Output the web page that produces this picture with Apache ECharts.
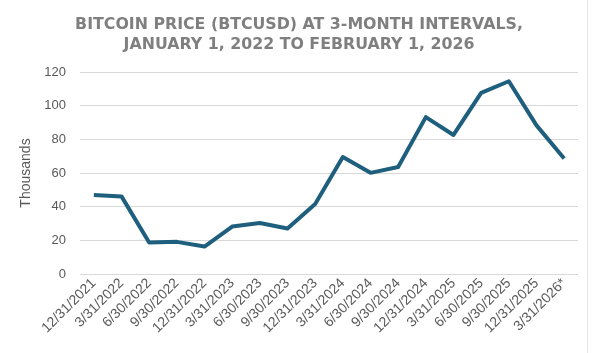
<!DOCTYPE html>
<html>
<head>
<meta charset="utf-8">
<script src="https://cdn.jsdelivr.net/npm/echarts@6/dist/echarts.min.js"></script>
<style>
  html, body { margin: 0; padding: 0; background: #fff; }
  #main { width: 598px; height: 353px; }
</style>
</head>
<body>
<div id="main"></div>
<script>
  // quarter-end dates
  var dates = ['12/31/2021', '3/31/2022', '6/30/2022', '9/30/2022', '12/31/2022',
    '3/31/2023', '6/30/2023', '9/30/2023', '12/31/2023', '3/31/2024', '6/30/2024',
    '9/30/2024', '12/31/2024', '3/31/2025', '6/30/2025', '9/30/2025', '12/31/2025', '3/31/2026*'];
  // price in thousands USD
  var price = [47.0, 46.1, 18.7, 19.1, 16.3, 28.2, 30.3, 27.0, 41.6, 69.5, 60.1,
    63.6, 93.2, 82.6, 107.6, 114.5, 88.3, 68.6];
  var yTicks = [0, 20, 40, 60, 80, 100, 120];

  var chart = echarts.init(document.getElementById('main'));
  var option = {
    animation: false,
    title: {
      text: 'BITCOIN PRICE (BTCUSD) AT 3-MONTH INTERVALS,\nJANUARY 1, 2022 TO FEBRUARY 1, 2026',
      left: 'center',
      top: 10,
      textStyle: {
        fontFamily: 'DejaVu Sans',
        fontWeight: 'bold',
        fontSize: 15.8,
        color: '#7f7f7f',
        lineHeight: 20
      }
    },
    grid: { left: 80, right: 20, top: 72, bottom: 79 },
    xAxis: {
      type: 'category',
      data: dates,
      axisLine: { show: false },
      axisTick: { show: false },
      axisLabel: {
        rotate: 45,
        interval: 0,
        margin: 7,
        color: '#595959',
        fontFamily: 'Liberation Sans',
        fontSize: 14
      }
    },
    yAxis: {
      type: 'value',
      min: yTicks[0],
      max: yTicks[yTicks.length - 1],
      interval: 20,
      name: 'Thousands',
      nameLocation: 'middle',
      nameGap: 46,
      nameTextStyle: { color: '#595959', fontFamily: 'Liberation Sans', fontSize: 14 },
      axisLabel: { color: '#595959', fontFamily: 'Liberation Sans', fontSize: 13, margin: 14 },
      splitLine: { lineStyle: { color: '#d9d9d9', width: 1 } }
    },
    series: [{
      type: 'line',
      data: price,
      symbol: 'none',
      lineStyle: { color: '#1f5f7e', width: 4, join: 'round' }
    }],
    graphic: [{
      type: 'line',
      shape: { x1: 587.5, y1: 0, x2: 587.5, y2: 353 },
      style: { stroke: '#e6e6e6', lineWidth: 1 }
    }]
  };
  chart.setOption(option);
</script>
</body>
</html>
